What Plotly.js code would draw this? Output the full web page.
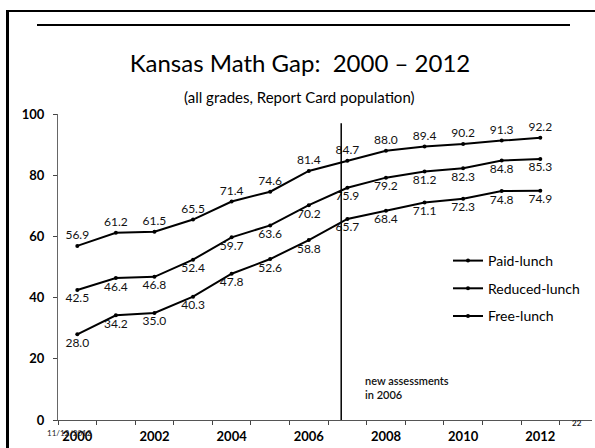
<!DOCTYPE html>
<html>
<head>
<meta charset="utf-8">
<script src="https://cdn.plot.ly/plotly-3.0.1.min.js"></script>
<style>
html,body{margin:0;padding:0;background:#fff;}
#wrap{position:relative;width:595px;height:448px;overflow:hidden;}
#chart{position:absolute;left:0;top:0;width:595px;height:448px;}
.ln{position:absolute;background:#000;pointer-events:none;}
</style>
</head>
<body>
<div id="wrap">
<div id="chart"></div>
<div class="ln" style="left:6px;top:10px;width:3px;height:438px;"></div>
<div class="ln" style="left:6px;top:10px;width:589px;height:2px;"></div>
<div class="ln" style="left:37px;top:24px;width:533px;height:2px;"></div>
</div>
<script>
const years = [2000,2001,2002,2003,2004,2005,2006,2007,2008,2009,2010,2011,2012];
const paidLunch    = [56.9,61.2,61.5,65.5,71.4,74.6,81.4,84.7,88.0,89.4,90.2,91.3,92.2];
const reducedLunch = [42.5,46.4,46.8,52.4,59.7,63.6,70.2,75.9,79.2,81.2,82.3,84.8,85.3];
const freeLunch    = [28.0,34.2,35.0,40.3,47.8,52.6,58.8,65.7,68.4,71.1,72.3,74.8,74.9];
const seriesNames  = ['Paid-lunch','Reduced-lunch','Free-lunch'];
const xTickVals    = [2000,2002,2004,2006,2008,2010,2012];
const yTickVals    = [0,20,40,60,80,100];
const assessmentYear = 2006.84;

const FONT = 'Lato, "Open Sans", sans-serif';
const seriesData = [paidLunch, reducedLunch, freeLunch];
const positions = ['top center','bottom center','bottom center'];

const traces = seriesData.map((vals, k) => ({
  x: years, y: vals, name: seriesNames[k],
  type: 'scatter', mode: 'lines+markers+text',
  line: {color: '#000', width: 2},
  marker: {color: '#000', size: 4},
  text: vals.map(v => v.toFixed(1)),
  textposition: positions[k],
  textfont: {family: FONT, size: 12, color: '#111'},
  legendgroup: 'g' + k,
  cliponaxis: false
}));

const layout = {
  width: 595, height: 448,
  margin: {l: 58, r: 3, t: 114, b: 28, autoexpand: false},
  paper_bgcolor: '#fff', plot_bgcolor: '#fff',
  font: {family: FONT, color: '#000'},
  title: {
    text: 'Kansas Math Gap:  2000 \u2013 2012',
    font: {family: FONT, size: 24, color: '#000'},
    x: 300/595, xanchor: 'center', xref: 'container',
    y: 1 - 64/448, yanchor: 'middle', yref: 'container'
  },
  xaxis: {
    range: [1999.5, 2013.34],
    tickvals: xTickVals, ticktext: xTickVals.map(String),
    ticks: 'outside', ticklen: 0,
    tickfont: {family: FONT, size: 13, color: '#000', weight: 'bold'},
    ticklabelstandoff: 4,
    minor: {tick0: 1999.5, dtick: 1, ticks: 'outside', ticklen: 4, tickcolor: '#444', showgrid: false},
    showline: true, linecolor: '#555', linewidth: 1,
    showgrid: false, zeroline: false, fixedrange: true
  },
  yaxis: {
    range: [0, 100],
    tickvals: yTickVals,
    ticks: 'outside', ticklen: 4, tickcolor: '#444',
    tickfont: {family: FONT, size: 13, color: '#000', weight: 'bold'},
    ticklabelstandoff: 6,
    showline: true, linecolor: '#666', linewidth: 1,
    showgrid: false, zeroline: false, fixedrange: true
  },
  showlegend: true,
  legend: {
    x: (448 - 58)/534, y: (420 - 245)/306, xanchor: 'left', yanchor: 'top',
    font: {family: FONT, size: 14, color: '#000'},
    bgcolor: 'rgba(0,0,0,0)', borderwidth: 0,
    traceorder: 'grouped', tracegroupgap: 6.5,
    itemwidth: 30
  },
  shapes: [{
    type: 'line', xref: 'x', yref: 'y',
    x0: assessmentYear, x1: assessmentYear, y0: 0, y1: 97,
    line: {color: '#000', width: 1.5}
  }],
  annotations: [
    {text: '(all grades, Report Card population)', xref: 'paper', yref: 'paper',
     x: (299 - 58)/534, y: (420 - 97)/306, xanchor: 'center', yanchor: 'middle',
     showarrow: false, font: {family: FONT, size: 15, color: '#000'}},
    {text: 'new assessments<br>in 2006', xref: 'x', yref: 'y',
     x: 2007.4, y: 10.6, xanchor: 'left', yanchor: 'middle', align: 'left',
     showarrow: false, font: {family: FONT, size: 11, color: '#111', weight: 600}},
    {text: '11/12/2012', xref: 'paper', yref: 'paper',
     x: (45 - 58)/534, y: (420 - 433)/306, xanchor: 'left', yanchor: 'middle',
     showarrow: false, font: {family: FONT, size: 8, color: '#222'}},
    {text: '22', xref: 'paper', yref: 'paper',
     x: (577 - 58)/534, y: (420 - 423)/306, xanchor: 'center', yanchor: 'middle',
     showarrow: false, font: {family: FONT, size: 8, color: '#222', weight: 'bold'}}
  ]
};

Plotly.newPlot('chart', traces, layout, {displayModeBar: false, staticPlot: true});
</script>
</body>
</html>
